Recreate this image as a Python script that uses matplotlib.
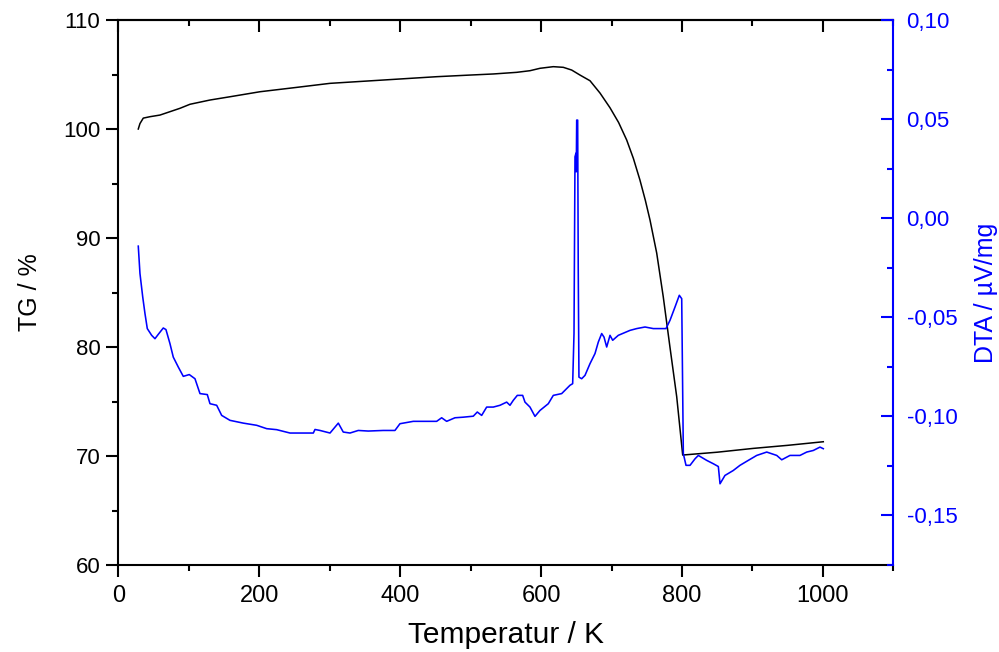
import matplotlib
matplotlib.use("Agg")
import matplotlib.pyplot as plt
from matplotlib import font_manager
from matplotlib.ticker import MultipleLocator, FixedLocator, FuncFormatter

plt.rcParams['font.family'] = ['Liberation Sans', 'DejaVu Sans']

# narrow family for the vertical axis titles if available
try:
    font_manager.findfont(font_manager.FontProperties(family='Liberation Sans Narrow'),
                          fallback_to_default=False)
    ylab_family = ['Liberation Sans Narrow', 'Liberation Sans', 'DejaVu Sans']
    ylab_size = 21.5
except Exception:
    ylab_family = ['Liberation Sans', 'DejaVu Sans']
    ylab_size = 18

# ---- TG data (Temperature K, TG %) ----
tg_temp = [28.1, 30.5, 35.2, 44.7, 58.9, 73.1, 87.3, 101.5, 129.9, 158.3, 200.9, 253.0,
           300.3, 352.4, 399.6, 451.7, 499.0, 532.1, 565.3, 584.2, 598.4, 617.3, 631.5,
           643.4, 655.2, 669.4, 683.6, 697.8, 710.0, 721.5, 731.0, 740.3, 748.0, 754.6,
           764.1, 773.4, 782.9, 792.5, 801.0, 850.0, 901.2, 950.0, 1000.6]
tg_vals = [100.0, 100.5, 101.0, 101.13, 101.28, 101.59, 101.9, 102.27, 102.66, 102.96,
           103.42, 103.82, 104.19, 104.40, 104.59, 104.80, 104.95, 105.05, 105.20, 105.35,
           105.57, 105.72, 105.66, 105.41, 104.95, 104.43, 103.30, 101.95, 100.6, 98.99,
           97.3, 95.32, 93.45, 91.65, 88.62, 84.61, 80.0, 75.44, 70.09, 70.35, 70.70,
           70.98, 71.31]

# ---- DTA data (Temperature K, DTA uV/mg) ----
dta_temp = [28.1, 30.5, 34.4, 37.6, 40.9, 47.1, 51.8, 56.5, 63.6, 67.4, 73.1, 77.8, 84.9,
            92.0, 100.5, 108.6, 115.7, 126.1, 129.9, 139.4, 146.5, 158.3, 177.2, 196.2,
            210.4, 224.6, 243.5, 276.6, 279.0, 286.1, 300.3, 312.1, 319.1, 328.7, 340.4,
            354.6, 375.9, 392.5, 399.6, 418.5, 437.5, 451.7, 458.8, 465.9, 477.7, 489.5,
            503.7, 509.4, 515.6, 522.7, 532.1, 541.6, 551.1, 555.8, 560.5, 566.2, 573.8,
            577.1, 584.2, 591.3, 598.4, 610.2, 617.3, 629.2, 641.0, 644.8, 646.7, 648.1,
            649.5, 649.9, 650.5, 651.9, 652.7, 653.7, 657.6, 662.3, 669.4, 676.5, 681.2,
            686.0, 689.3, 693.1, 697.8, 701.6, 709.6, 726.2, 735.7, 747.5, 759.3, 777.3,
            783.0, 790.1, 796.2, 799.6, 801.9, 805.7, 811.4, 818.5, 823.2, 835.1, 844.5,
            851.6, 854.0, 861.0, 872.8, 882.3, 894.1, 906.1, 920.3, 934.5, 941.6, 953.3,
            967.5, 977.1, 986.4, 995.9, 1000.6]
dta_vals = [-0.0141, -0.0279, -0.0397, -0.0481, -0.0557, -0.0591, -0.0608, -0.0586, -0.0554,
            -0.0562, -0.0633, -0.0701, -0.0751, -0.0798, -0.0789, -0.0810, -0.0885, -0.0890,
            -0.0936, -0.0944, -0.0995, -0.1020, -0.1034, -0.1045, -0.1062, -0.1067, -0.1084,
            -0.1084, -0.1066, -0.1071, -0.1084, -0.1034, -0.1079, -0.1084, -0.1071, -0.1074,
            -0.1071, -0.1071, -0.1037, -0.1025, -0.1025, -0.1025, -0.1007, -0.1025, -0.1007,
            -0.1004, -0.0999, -0.0978, -0.0995, -0.0953, -0.0953, -0.0944, -0.0928, -0.0944,
            -0.0919, -0.0894, -0.0894, -0.0928, -0.0953, -0.1000, -0.0970, -0.0936, -0.0894,
            -0.0885, -0.0843, -0.0835, -0.0581, 0.0310, 0.0328, 0.0234, 0.0495, 0.0495,
            -0.0246, -0.0802, -0.0810, -0.0793, -0.0734, -0.0683, -0.0625, -0.0582, -0.0600,
            -0.0650, -0.0591, -0.0616, -0.0591, -0.0566, -0.0557, -0.0549, -0.0557, -0.0557,
            -0.0515, -0.0448, -0.0389, -0.0406, -0.1188, -0.1247, -0.1247, -0.1214, -0.1197,
            -0.1222, -0.1239, -0.1253, -0.1340, -0.1298, -0.1273, -0.1247, -0.1222, -0.1197,
            -0.1180, -0.1197, -0.1219, -0.1197, -0.1197, -0.1180, -0.1172, -0.1155, -0.1163]

dta_ticks = [-0.15, -0.10, -0.05, 0.00, 0.05, 0.10]

fig = plt.figure(figsize=(9.99, 6.52), dpi=100)
ax = fig.add_axes([0.1186, 0.1334, 0.8942 - 0.1186, 0.9693 - 0.1334])

ax.plot(tg_temp, tg_vals, color='black', lw=1.1)
ax.set_xlim(0, 1100)
ax.set_ylim(60, 110)
ax.xaxis.set_major_locator(MultipleLocator(200))
ax.xaxis.set_minor_locator(MultipleLocator(100))
ax.yaxis.set_major_locator(MultipleLocator(10))
ax.yaxis.set_minor_locator(MultipleLocator(5))

for s in ['left', 'bottom', 'top']:
    ax.spines[s].set_linewidth(1.5)
    ax.spines[s].set_color('black')
ax.spines['right'].set_visible(False)

ax.tick_params(axis='both', which='major', direction='out', length=8.5, width=1.5,
               labelsize=16, pad=4.5, right=False, top=False)
ax.tick_params(axis='x', which='major', labelsize=17, pad=6)
ax.tick_params(axis='both', which='minor', direction='out', length=4.5, width=1.5,
               right=False, top=False)

# top ticks (inward, no labels)
secx = ax.secondary_xaxis('top')
secx.xaxis.set_major_locator(MultipleLocator(200))
secx.xaxis.set_minor_locator(MultipleLocator(100))
secx.tick_params(axis='x', which='major', direction='in', length=8.5, width=1.5, labeltop=False)
secx.tick_params(axis='x', which='minor', direction='in', length=4.5, width=1.5)
secx.spines['top'].set_linewidth(1.5)

ax.set_xlabel('Temperatur / K', fontsize=21.5)
ax.set_ylabel('TG / %', fontsize=ylab_size, family=ylab_family)
ax.xaxis.set_label_coords(0.5, -0.102)
ax.yaxis.set_label_coords(-0.099, 0.5)

ax2 = ax.twinx()
ax2.plot(dta_temp, dta_vals, color='#0000ff', lw=1.15)
ax2.set_ylim(-0.175, 0.10)
ax2.yaxis.set_major_locator(FixedLocator(dta_ticks))
ax2.yaxis.set_minor_locator(MultipleLocator(0.025))


def fmt(v, pos):
    if abs(v) < 1e-9:
        v = 0.0
    return f"{v:.2f}".replace('.', ',')


ax2.yaxis.set_major_formatter(FuncFormatter(fmt))
for s in ['left', 'bottom', 'top']:
    ax2.spines[s].set_visible(False)
ax2.spines['right'].set_color('#0000ff')
ax2.spines['right'].set_linewidth(1.5)
ax2.tick_params(axis='y', which='major', direction='in', length=8.5, width=1.5,
                colors='#0000ff', labelsize=16, pad=9.5)
ax2.tick_params(axis='y', which='minor', direction='in', length=4.5, width=1.5,
                colors='#0000ff')
ax2.set_ylabel('DTA / µV/mg', fontsize=ylab_size, color='#0000ff', family=ylab_family)
ax2.yaxis.set_label_coords(1.104, 0.5)

fig.savefig('out.png', dpi=100)
